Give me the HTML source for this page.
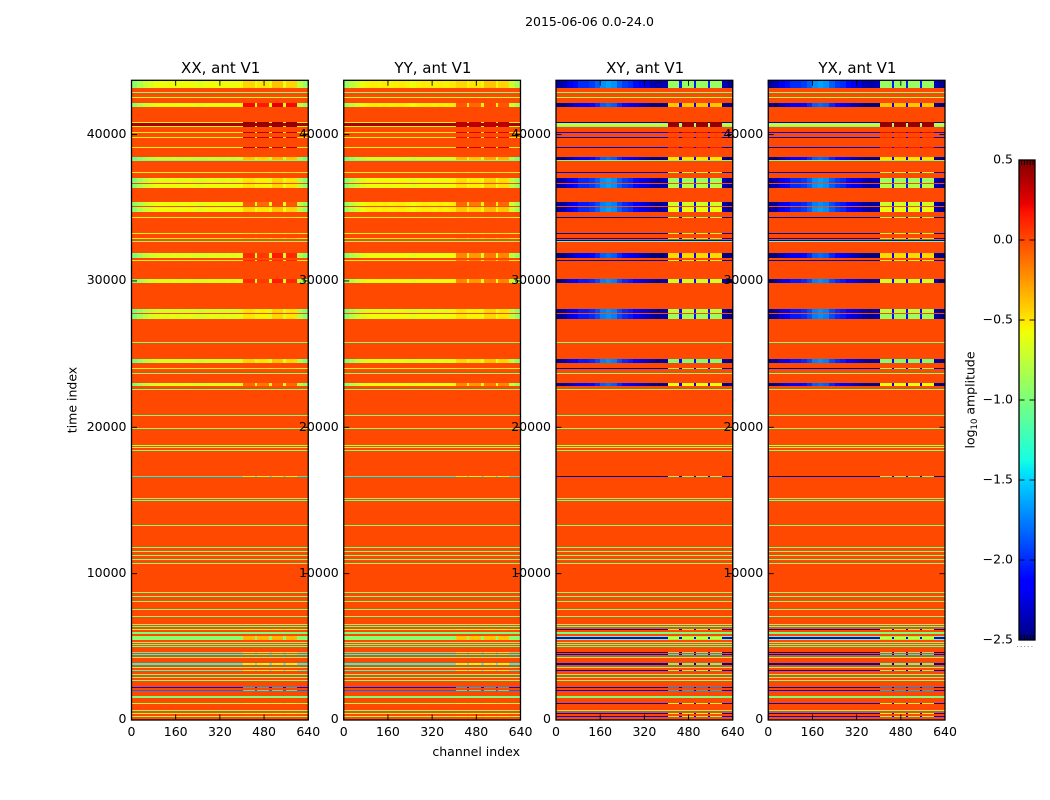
<!DOCTYPE html>
<html lang="en">
<head>
<meta charset="utf-8">
<title>2015-06-06 0.0-24.0</title>
<style>
html,body{margin:0;padding:0;background:#fff;width:1050px;height:800px;overflow:hidden}
svg{display:block;font-family:"DejaVu Sans","Liberation Sans",sans-serif;fill:#000}
text{font-size:12.5px}
</style>
</head>
<body>
<svg id="figure" xmlns="http://www.w3.org/2000/svg" width="1050" height="800" viewBox="0 0 1050 800">
  <defs>
    <linearGradient id="jet-gradient" x1="0" y1="1" x2="0" y2="0"></linearGradient>
  </defs>
  <rect x="0" y="0" width="1050" height="800" fill="#fff"/>
  <text x="589.5" y="26" text-anchor="middle">2015-06-06 0.0-24.0</text>
  <g id="panels"></g>
  <text transform="translate(76.5,400) rotate(-90)" text-anchor="middle">time index</text>
  <text x="520" y="756" text-anchor="end">channel index</text>
  <g id="colorbar"></g>
  <text transform="translate(974.5,400) rotate(-90)" text-anchor="middle">log<tspan font-size="8.5px" dy="2.5">10</tspan><tspan dy="-2.5"> amplitude</tspan></text>
</svg>
<script>
// ---- axis tick labels ----
const channelTicks = [0, 160, 320, 480, 640];
const timeTicks = [0, 10000, 20000, 30000, 40000];
const colorbarTicks = [0.5, 0, -0.5, -1, -1.5, -2, -2.5];
const panelTitles = ['XX, ant V1', 'YY, ant V1', 'XY, ant V1', 'YX, ant V1'];

// ---- channel columns of the heatmap ----
const channelEdges = [0,20,40,60,80,100,120,140,160,180,200,220,240,260,280,300,320,340,360,380,405,447,455,498,507,550,558,600,620,640];
// 0 = ordinary channel, 1 = interference sub-band, 2 = notch between sub-bands
const columnKind = [0,0,0,0,0,0,0,0,0,0,0,0,0,0,0,0,0,0,0,0,1,2,1,2,1,2,1,0,0];
const parallelShape = [-0.35,-0.22,-0.12,-0.05,0,0.02,0,0.03,0,0.02,0.03,0,-0.03,0,0.03,0.02,0,0.03,0,0.03,0,0,-0.05,0,0.05,0,0,-0.15,-0.3];
const crossShape = [-0.35,-0.3,-0.15,-0.05,0.05,0.05,0.1,0.2,0.35,0.4,0.35,0.2,0.1,0.05,-0.05,-0.15,-0.2,-0.3,-0.35,-0.3,0,0,0,0,0,0,0,-0.3,-0.4];

// ---- time bands (log10 amplitude); everything else sits at backgroundLevel ----
const backgroundLevel = 0;
const bandTop = [
43710,42925,42583,42180,40861,40793,40609,40178,39836,39153,
38470,38292,37445,37055,36625,35395,35053,34370,33277,32935,
32798,32710,31910,31432,30134,28084,27742,25829,24667,24052,
23711,23027,22617,20841,19952,18791,18654,18449,16673,15169,
15033,13324,11821,11548,11274,11001,10728,8746,8473,8131,
7585,7106,6560,6423,6218,6013,5740,5672,5535,5330,5193,5056,
4646,4510,4305,3895,3621,3417,3143,2938,2733,2255,
2050,1640,1162,683,478,273];
const bandSpan = [
512,68,68,294,68,185,90,68,68,68,
185,68,68,362,273,273,342,68,68,68,
68,68,342,68,273,273,342,68,273,68,
68,205,68,68,68,68,68,68,68,68,
68,68,68,68,68,68,68,68,68,68,
68,68,68,68,68,137,68,137,68,68,68,102,
68,68,68,137,68,68,68,68,68,68,
68,137,68,68,68,68];
const xxBase = [
-0.6,-1,-0.65,-0.6,-0.55,0.4,-0.55,-0.55,-0.55,-0.55,
-0.75,-1,-0.55,-0.65,-0.6,-0.6,-0.6,-0.55,-0.55,-0.55,
0,-1,-0.65,-0.55,-0.65,-0.7,-0.65,-1,-0.7,-0.55,
-1,-0.65,-1,-1,-1,-0.75,-0.75,-1,-1.4,-1,
-1,-1,-1,-1,-1,-1,-1,-1,-1,-1,
-1,-1,-1,-1,-0.75,-1,-0.95,-0.95,-0.95,-1,-1,-1,
-1.3,-1.3,-1,-1.35,-1,-1.25,-1,-1,-1,-2.1,
-1.8,-1,-0.8,-1,-0.75,-0.9];
const yyBase = [
-0.55,-1,-0.65,-0.55,-0.55,0.4,-0.55,-0.55,-0.55,-0.55,
-0.7,-1,-0.55,-0.6,-0.6,-0.55,-0.55,-0.55,-0.55,-0.55,
0,-1,-0.6,-0.55,-0.6,-0.65,-0.6,-1,-0.65,-0.55,
-1,-0.6,-1,-1,-1,-0.75,-0.75,-1,-1.4,-1,
-1,-1,-1,-1,-1,-1,-1,-1,-1,-1,
-1,-1,-1,-1,-0.75,-1,-0.95,-0.95,-0.95,-1,-1,-1,
-1.3,-1.3,-1,-1.35,-1,-1.25,-1,-1,-1,-2.1,
-1.8,-1,-0.8,-1,-0.75,-0.9];
const crossBase = [
-2.05,-1,-0.8,-2.2,-2.3,-0.75,-1,-2.2,-2.3,-2.3,
-2.2,-1,-2.3,-2.05,-2.05,-2.1,-2.05,-2.4,-2.4,-2.3,
-2.4,-1,-2.2,-2.4,-2.1,-2.1,-2.1,-1,-2.1,-2.4,
-1,-2.2,-1,-1,-1,-0.75,-0.75,-1,-2.4,-1,
-1,-1,-1,-1,-1,-1,-1,-1,-1,-1,
-1,-1,-1,-1,-2.4,-1,-1,-2.15,-1,-1,-1,-1,
-2.4,-2.4,-1,-2.4,-1,-2.3,-1,-1,-1,-2.4,
-2.2,-1,-2.3,-1,-2.3,-2.2];
const xxInterference = [
-0.45,-1,-0.65,0.2,0.45,0.45,0.45,0.35,0.3,0.35,
-0.4,-1,-0.5,-0.5,-0.5,-0.05,-0.45,-0.5,-0.5,-0.45,
0,-1,0.1,0.1,0.1,-0.5,-0.5,-1,-0.45,-0.5,
-1,-0.1,-1,-1,-1,-0.75,-0.75,-1,-0.7,-1,
-1,-1,-1,-1,-1,-1,-1,-1,-1,-1,
-1,-1,-1,-1,-0.6,-1,-0.35,-0.35,-0.35,-1,-1,-1,
-0.9,-1.05,-1,-0.7,-1,-0.75,-1,-1,-1,-1.6,
-1.4,-1,-0.65,-1,-0.6,-0.9];
const yyInterference = [
-0.45,-1,-0.65,-0.05,0.35,0.35,0.35,0.25,0.2,0.3,
-0.35,-1,-0.5,-0.48,-0.48,-0.1,-0.4,-0.5,-0.5,-0.45,
0,-1,-0.2,-0.2,-0.2,-0.5,-0.5,-1,-0.45,-0.5,
-1,-0.2,-1,-1,-1,-0.75,-0.75,-1,-0.7,-1,
-1,-1,-1,-1,-1,-1,-1,-1,-1,-1,
-1,-1,-1,-1,-0.6,-1,-0.4,-0.4,-0.4,-1,-1,-1,
-0.9,-1.05,-1,-0.7,-1,-0.75,-1,-1,-1,-1.6,
-1.4,-1,-0.65,-1,-0.6,-0.7];
const crossInterference = [
-0.9,-1,-0.8,-0.4,0.45,0.45,0.45,0.2,0.1,0.15,
-0.5,-1,-0.7,-0.9,-0.8,-0.7,-0.6,-0.8,-0.7,-0.9,
-2.4,-1,-0.45,-0.6,-0.7,-0.8,-0.9,-1,-1,-0.9,
-1,-0.6,-1,-1,-1,-0.75,-0.75,-1,-1,-1,
-1,-1,-1,-1,-1,-1,-1,-1,-1,-1,
-1,-1,-1,-1,-0.9,-1,-1,-0.6,-1,-1,-1,-1,
-1.2,-1.4,-1,-1.1,-1,-1,-1,-1,-1,-1.7,
-1.6,-1,-0.7,-1,-0.7,-1];
const bandTextured = [
1,0,0,1,0,0,0,0,0,0,
1,0,0,1,1,1,1,0,0,0,
0,0,1,0,1,1,1,0,1,0,
0,1,0,0,0,0,0,0,0,0,
0,0,0,0,0,0,0,0,0,0,
0,0,0,0,0,0,0,0,0,0,0,0,
0,0,0,0,0,0,0,0,0,0,
0,0,0,0,0,0];

const panelBase = [xxBase, yyBase, crossBase, crossBase];
const panelInterference = [xxInterference, yyInterference, crossInterference, crossInterference];
const panelShape = [parallelShape, parallelShape, crossShape, crossShape];

// ---- layout + scales ----
const NS = 'http://www.w3.org/2000/svg';
const AXIS_TOP = 80.3, AXIS_BOTTOM = 720, AXIS_WIDTH = 176.75;
const TIME_MAX = 43710, CHANNEL_MAX = 640;
const CB_LEFT = 1019, CB_RIGHT = 1035, CB_TOP = 160, CB_BOTTOM = 640;
const V_MIN = -2.5, V_MAX = 0.5;
function panelLeft(i){ return 131.5 + 212.25 * i; }
function xScale(i, ch){ return panelLeft(i) + ch / CHANNEL_MAX * AXIS_WIDTH; }
function yScale(t){ return AXIS_BOTTOM - t / TIME_MAX * (AXIS_BOTTOM - AXIS_TOP); }
function cbScale(v){ return CB_BOTTOM - (v - V_MIN) / (V_MAX - V_MIN) * (CB_BOTTOM - CB_TOP); }

function ramp(x, pts){
  if (x <= pts[0][0]) return pts[0][1];
  for (let i = 1; i < pts.length; i++) {
    if (x <= pts[i][0]) {
      const a = pts[i-1], b = pts[i];
      return a[1] + (b[1] - a[1]) * (x - a[0]) / (b[0] - a[0]);
    }
  }
  return pts[pts.length-1][1];
}
function jet(x){
  const r = ramp(x, [[0.35,0],[0.66,1],[0.89,1],[1,0.5]]);
  const g = ramp(x, [[0.125,0],[0.375,1],[0.64,1],[0.91,0]]);
  const b = ramp(x, [[0,0.5],[0.11,1],[0.34,1],[0.65,0]]);
  return 'rgb(' + Math.round(r*255) + ',' + Math.round(g*255) + ',' + Math.round(b*255) + ')';
}
function colorOf(v){ return jet(Math.max(0, Math.min(1, (v - V_MIN) / (V_MAX - V_MIN)))); }

function make(tag, parent, props){
  const el = document.createElementNS(NS, tag);
  for (const k in props) el.setAttribute(k, props[k]);
  parent.appendChild(el);
  return el;
}

// gradient stops for the colorbar
const gradient = document.getElementById('jet-gradient');
[0,0.11,0.125,0.34,0.35,0.375,0.64,0.65,0.66,0.89,0.91,1].forEach(function(s){
  const stop = make('stop', gradient, {offset: s, 'stop-color': jet(s)});
  
  
});

// panels
const panelsRoot = document.getElementById('panels');
panelTitles.forEach(function(title, p){
  const g = make('g', panelsRoot, {});
  
  

  const top = Math.round(AXIS_TOP), bottom = Math.round(AXIS_BOTTOM);
  const bg = make('rect', g, {x: panelLeft(p), y: top, width: AXIS_WIDTH, height: bottom - top, fill: colorOf(backgroundLevel)});
  
  

  const base = panelBase[p], rfi = panelInterference[p], shape = panelShape[p];
  bandTop.forEach(function(t, b){
    const y0 = Math.round(yScale(t));
    const y1 = Math.max(y0 + 1, Math.round(yScale(t - bandSpan[b])));
    let runStart = null, runColor = null;
    function flush(endCh){
      if (runColor === null) return;
      const x0 = Math.round(xScale(p, runStart)), x1 = Math.round(xScale(p, endCh));
      const cell = make('rect', g, {x: x0, y: y0, width: x1 - x0, height: y1 - y0, fill: runColor, 'shape-rendering': 'crispEdges'});
      
      
    }
    for (let c = 0; c < columnKind.length; c++) {
      const level = columnKind[c] === 1 ? rfi[b] : base[b];
      const v = level + (bandTextured[b] ? shape[c] : 0);
      const col = colorOf(v);
      if (col !== runColor) {
        flush(channelEdges[c]);
        runStart = channelEdges[c];
        runColor = col;
      }
    }
    flush(channelEdges[channelEdges.length - 1]);
  });

  // frame
  const frame = make('rect', g, {x: panelLeft(p), y: AXIS_TOP, width: AXIS_WIDTH, height: AXIS_BOTTOM - AXIS_TOP, fill: 'none', stroke: '#000', 'stroke-width': 1.3});
  
  

  // x ticks and labels
  channelTicks.forEach(function(ch){
    const x = xScale(p, ch);
    const tickB = make('line', g, {x1: x, x2: x, y1: AXIS_BOTTOM, y2: AXIS_BOTTOM - 5.5, stroke: '#000', 'stroke-width': 0.9});
    
    
    const tickT = make('line', g, {x1: x, x2: x, y1: AXIS_TOP, y2: AXIS_TOP + 5.5, stroke: '#000', 'stroke-width': 0.9});
    
    
    const lab = make('text', g, {x: x, y: 736, 'text-anchor': 'middle'});
    lab.textContent = String(ch);
    
    
  });

  // y ticks and labels
  timeTicks.forEach(function(t){
    const y = yScale(t);
    const tickL = make('line', g, {x1: panelLeft(p), x2: panelLeft(p) + 5.5, y1: y, y2: y, stroke: '#000', 'stroke-width': 0.9});
    
    
    const tickR = make('line', g, {x1: panelLeft(p) + AXIS_WIDTH, x2: panelLeft(p) + AXIS_WIDTH - 5.5, y1: y, y2: y, stroke: '#000', 'stroke-width': 0.9});
    
    
    const lab = make('text', g, {x: panelLeft(p) - 5, y: Math.round(y + 3.4), 'text-anchor': 'end'});
    lab.textContent = String(t);
    
    
  });

  const ttl = make('text', g, {x: panelLeft(p) + AXIS_WIDTH / 2 + 0.8, y: 73, 'text-anchor': 'middle', style: 'font-size:15px'});
  ttl.textContent = title;
  
  
});

// colorbar
const cb = document.getElementById('colorbar');
const cbBar = make('rect', cb, {x: CB_LEFT, y: CB_TOP, width: CB_RIGHT - CB_LEFT, height: CB_BOTTOM - CB_TOP, fill: 'url(#jet-gradient)', stroke: '#000', 'stroke-width': 1.3});


colorbarTicks.forEach(function(v){
  const y = cbScale(v);
  const tickL = make('line', cb, {x1: CB_LEFT, x2: CB_LEFT + 5.5, y1: y, y2: y, stroke: '#000', 'stroke-width': 0.9});
  
  
  const tickR = make('line', cb, {x1: CB_RIGHT, x2: CB_RIGHT - 5.5, y1: y, y2: y, stroke: '#000', 'stroke-width': 0.9});
  
  
  const lab = make('text', cb, {x: 1013, y: y + 3.5, 'text-anchor': 'end'});
  lab.textContent = (v < 0 ? '\u2212' : '') + Math.abs(v).toFixed(1);
  
  
});
for (let k = 0; k < 5; k++) {
  const x = CB_LEFT + 2.5 + k * 2.9;
  const topMark = make('line', cb, {x1: x, x2: x, y1: CB_TOP, y2: CB_TOP + 5, stroke: '#000', 'stroke-width': 0.9});
  
  
  const botMark = make('line', cb, {x1: x, x2: x, y1: CB_BOTTOM, y2: CB_BOTTOM - 5, stroke: '#000', 'stroke-width': 0.9});
  
  
}
const dots = make('line', cb, {x1: 1017, x2: 1035, y1: 646.5, y2: 646.5, stroke: '#8a8a8a', 'stroke-width': 1, 'stroke-dasharray': '1 2.6'});


</script>
</body>
</html>
